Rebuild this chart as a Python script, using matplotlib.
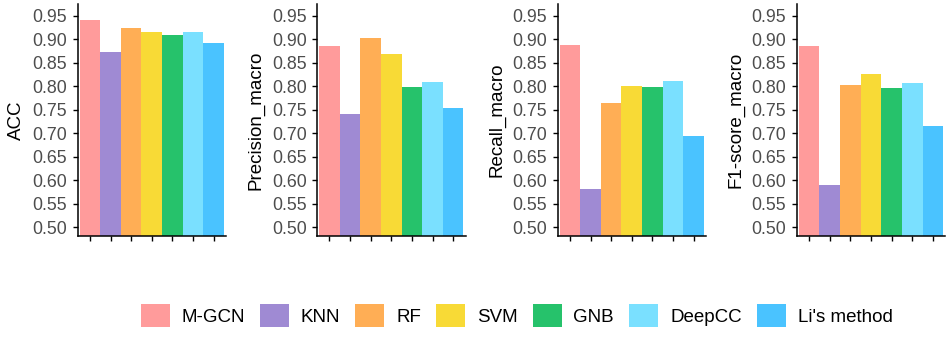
import matplotlib
matplotlib.use("Agg")
import matplotlib.pyplot as plt
from matplotlib.patches import Patch
import numpy as np

plt.rcParams['font.family'] = ['Liberation Sans', 'DejaVu Sans']

# === DATA ===
methods = ["M-GCN", "KNN", "RF", "SVM", "GNB", "DeepCC", "Li's method"]
metrics = ["ACC", "Precision_macro", "Recall_macro", "F1-score_macro"]

acc = [0.941, 0.873, 0.925, 0.915, 0.910, 0.915, 0.893]
precision_macro = [0.886, 0.741, 0.903, 0.868, 0.798, 0.809, 0.755]
recall_macro = [0.888, 0.582, 0.765, 0.800, 0.799, 0.812, 0.695]
f1_macro = [0.885, 0.591, 0.803, 0.826, 0.796, 0.807, 0.715]

colors = ["#FF9B9B", "#9F8AD3", "#FFAE55", "#F8DA36", "#26C26B", "#7AE0FF", "#4AC3FF"]
yticks = [0.50, 0.55, 0.60, 0.65, 0.70, 0.75, 0.80, 0.85, 0.90, 0.95]

# === FIGURE ===
W, H = 948, 339
fig = plt.figure(figsize=(W / 100, H / 100), dpi=100)

lefts = [77.5, 317.0, 557.5, 796.7]
panel_w = 148.5
bottom_px, top_px = 236, 4

series = [acc, precision_macro, recall_macro, f1_macro]
x = np.arange(1, len(methods) + 1)

for left, name, vals in zip(lefts, metrics, series):
    ax = fig.add_axes([left / W, (H - bottom_px) / H, panel_w / W, (bottom_px - top_px) / H])
    ax.bar(x, vals, width=1.0, color=colors, linewidth=0)
    ax.set_xlim(0.4, 7.6)
    ax.set_ylim(0.4819, 0.9751)
    ax.set_yticks(yticks)
    ax.set_yticklabels([f"{t:.2f}" for t in yticks])
    ax.set_xticks(x)
    ax.set_xticklabels([])
    for side in ["top", "right"]:
        ax.spines[side].set_visible(False)
    for side in ["left", "bottom"]:
        ax.spines[side].set_linewidth(1.1)
        ax.spines[side].set_color("black")
    ax.tick_params(axis="both", length=3.5, width=1.0, color="black")
    ax.tick_params(axis="y", labelsize=12.8, labelcolor="#4D4D4D", pad=4)
    ax.set_ylabel(name, fontsize=13.5, color="black")
    ax.yaxis.label.set_va("center")
    ax.yaxis.set_label_coords(-61 / panel_w, 0.5)

# === LEGEND ===
handles = [Patch(facecolor=c, edgecolor="none", label=m) for c, m in zip(colors, methods)]
fig.legend(handles=handles, loc="center", ncol=7, frameon=False,
           bbox_to_anchor=(516.5 / W, 1 - 315.7 / H), fontsize=13.5,
           handlelength=1.55, handleheight=1.55, handletextpad=0.63,
           columnspacing=0.8, borderpad=0)

fig.savefig("out.png", dpi=100)
